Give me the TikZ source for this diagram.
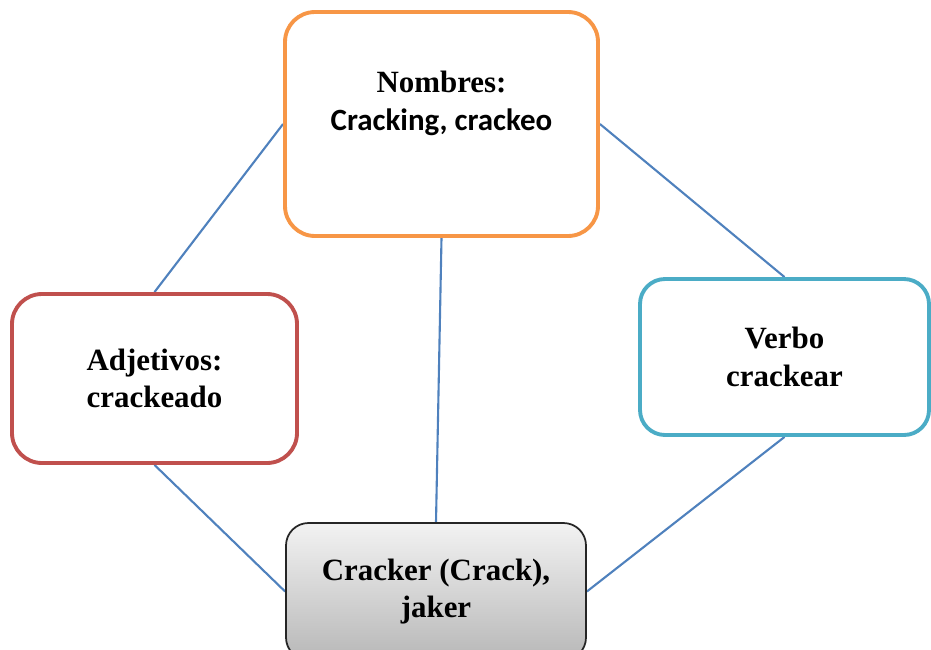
\documentclass[tikz,border=0pt]{standalone}
\usepackage{fontspec}
\setmainfont{Liberation Serif}
\newfontfamily\sanslabel{Carlito}
\usetikzlibrary{shapes,backgrounds}
\definecolor{nombresorange}{RGB}{247,150,70}
\definecolor{adjetivosred}{RGB}{192,80,77}
\definecolor{verboblue}{RGB}{75,172,198}
\definecolor{linkblue}{RGB}{79,129,189}

\begin{document}
\begin{tikzpicture}

\pgfdeclarelayer{background}
\pgfsetlayers{background,main}

\tikzstyle{block} = [draw, text centered, align=center, rounded corners=0.6cm, line width=2.2pt, fill=white, font=\fontsize{17.6}{21.5}\selectfont\bfseries]
\tikzstyle{crackblock} = [draw=black!85, text centered, align=center, rounded corners=0.45cm, line width=1pt, top color=black!5, bottom color=black!28, font=\fontsize{17.6}{21.5}\selectfont\bfseries]
\tikzstyle{textlabel} = [align=center, font=\fontsize{17.6}{21.5}\selectfont\bfseries]
\tikzstyle{link} = [draw=linkblue, line width=1.2pt]

\useasboundingbox (0,0) rectangle (18.62,-12.98);
\clip (0,0) rectangle (18.62,-12.98);

\coordinate (anchor) at (0,0);

%Nombres: top

\path (anchor)+(8.83,-2.48) node (nombres) [block, draw=nombresorange, minimum width=6.26cm, minimum height=4.48cm, label={[textlabel, yshift=0.42cm]center:{Nombres:\\{\sanslabel Cracking, crackeo}}}] {};

%Adjetivos: left

\path (nombres)+(-5.74,-5.09) node (adjetivos) [block, draw=adjetivosred, minimum width=5.7cm, minimum height=3.38cm] {Adjetivos:\\crackeado};

%Verbo: right

\path (nombres)+(6.86,-4.66) node (verbo) [block, draw=verboblue, minimum width=5.78cm, minimum height=3.12cm, rounded corners=0.5cm] {Verbo\\crackear};

%Cracker: bottom, runs past the lower edge

\path (nombres)+(-0.11,-9.35) node (cracker) [crackblock, minimum width=6.0cm, minimum height=2.74cm] {Cracker (Crack),\\jaker};

%Links

\begin{pgfonlayer}{background}

\path[link] (nombres.west) -- (adjetivos.north);
\path[link] (nombres.east) -- (verbo.north);
\path[link] (nombres.south) -- (cracker.north);
\path[link] (adjetivos.south) -- (cracker.west);
\path[link] (verbo.south) -- (cracker.east);

\end{pgfonlayer}

\end{tikzpicture}
\end{document}
